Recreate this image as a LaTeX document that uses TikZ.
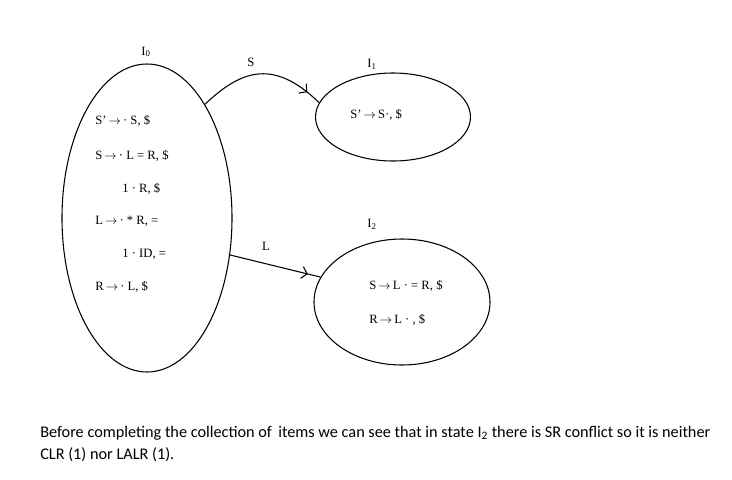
\documentclass[tikz,border=0pt]{standalone}
\usepackage{fontspec}
\setmainfont{Liberation Serif}
\newfontfamily\captfont{Carlito}
\usetikzlibrary{shapes.geometric,arrows.meta,decorations.markings}
\newcommand{\arr}{\,$\rightarrow$\,}
\tikzset{
  state/.style={draw, ellipse, line width=0.8pt, inner sep=0pt},
  item/.style={anchor=west, inner sep=0pt, font=\fontsize{9.5}{11}\selectfont},
  lbl/.style={inner sep=0pt, font=\fontsize{9.5}{11}\selectfont},
  trans/.style={line width=0.8pt, postaction={decorate}, decoration={markings, mark=at position #1 with {\arrow{Straight Barb[length=4pt,width=9pt,line width=0.8pt]}}}},
  capt/.style={anchor=west, inner sep=0pt, font=\captfont\fontsize{12.2}{14}\selectfont}
}
\begin{document}
\begin{tikzpicture}[x=0.75pt,y=-0.75pt]
\useasboundingbox (0,0) rectangle (732,479);
\node[state, minimum width=170*0.75pt, minimum height=308*0.75pt] (i0) at (147,218) {};
\node[state, minimum width=155*0.75pt, minimum height=88*0.75pt] (i1) at (393,117) {};
\node[state, minimum width=176*0.75pt, minimum height=126*0.75pt] (i2) at (402,302) {};
\node[lbl] (l0) at (146,52) {I\textsubscript{0}};
\node[lbl] (l1) at (372,64) {I\textsubscript{1}};
\node[lbl] (l2) at (372,224) {I\textsubscript{2}};
\node[lbl] (ls) at (251,62) {S};
\node[lbl] (ll) at (266,246) {L};
\node[item] (a1) at (95,121) {S'\arr· S, \$};
\node[item] (a2) at (95,156) {S\arr· L = R, \$};
\node[item] (a3) at (122,189) {1 · R, \$};
\node[item] (a4) at (95,221) {L\arr· * R, =};
\node[item] (a5) at (122,254) {1 · ID, =};
\node[item] (a6) at (95,287) {R\arr· L, \$};
\node[item] (b1) at (350,115) {S'\arr S·, \$};
\node[item] (c1) at (369,286) {S\arr L · = R, \$};
\node[item] (c2) at (369,320) {R\arr L · , \$};
\draw[trans=0.88] (i0.63) .. controls (243,68) and (275,60) .. (i1.169);
\draw[trans=0.86] (i0.-24.5) -- (i2.163);
\node[capt] (p1) at (40,433) {Before completing the collection of\, items we can see that in state I\textsubscript{2} there is SR conflict so it is neither};
\node[capt] (p2) at (40,455) {CLR (1) nor LALR (1).};
\end{tikzpicture}
\end{document}
